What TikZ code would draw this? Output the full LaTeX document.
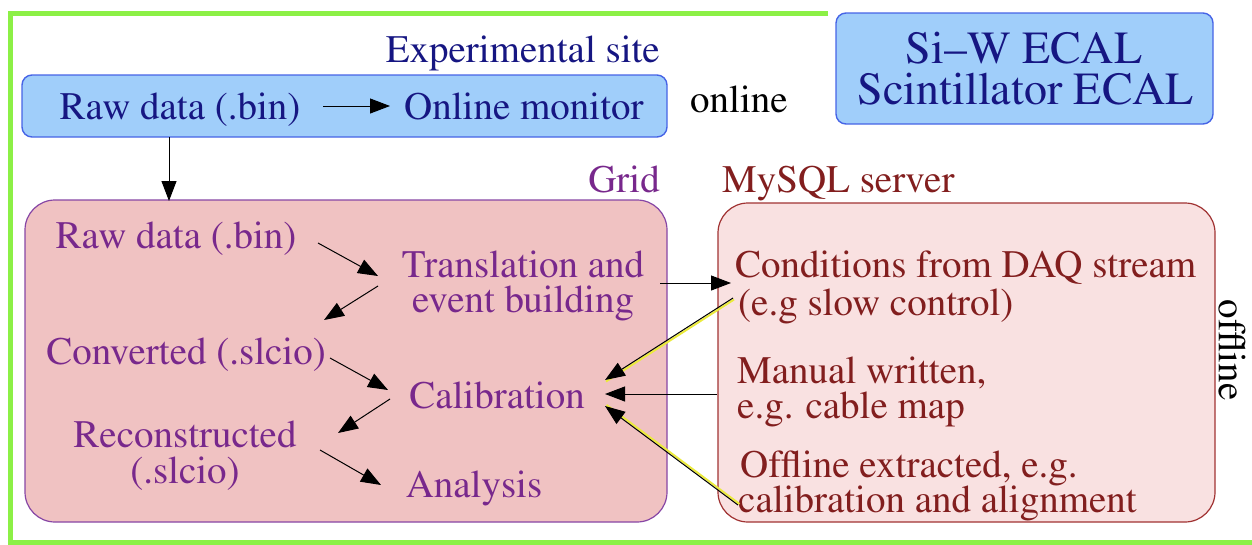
\documentclass[tikz,border=0pt]{standalone}
\usepackage[T1]{fontenc}
\usepackage{graphicx}
\usetikzlibrary{arrows.meta}
\definecolor{navy}{RGB}{22,22,130}
\definecolor{bfill}{RGB}{160,206,250}
\definecolor{bdraw}{RGB}{70,100,230}
\definecolor{gfill}{RGB}{240,194,194}
\definecolor{gdraw}{RGB}{135,70,165}
\definecolor{gtext}{RGB}{120,40,140}
\definecolor{mfill}{RGB}{249,225,225}
\definecolor{mdraw}{RGB}{160,50,50}
\definecolor{mtext}{RGB}{130,30,30}
\definecolor{framegreen}{RGB}{140,240,70}
\definecolor{shine}{RGB}{235,235,60}
\begin{document}
\begin{tikzpicture}[x=1pt,y=-1pt,
  txt/.style={inner sep=0pt, font=\fontfamily{ptm}\fontsize{39}{35}\selectfont},
  big/.style={inner sep=0pt, font=\fontfamily{ptm}\fontsize{46}{46}\selectfont},
  arr/.style={-{Triangle[length=20pt,width=15pt]}, line width=1pt},
  bluebox/.style={draw=bdraw, fill=bfill, line width=1.4pt, rounded corners=10pt, inner sep=0pt},
  gridbox/.style={draw=gdraw, fill=gfill, line width=1.2pt, rounded corners=30pt, inner sep=0pt},
  sqlbox/.style={draw=mdraw, fill=mfill, line width=1.2pt, rounded corners=30pt, inner sep=0pt}]
\useasboundingbox (0,0) rectangle (1252,544);
% green frame
\draw[framegreen, line width=5pt] (828,13) -- (10.5,13) -- (10.5,542) -- (1252,542);
% boxes
\node[bluebox, minimum width=645, minimum height=62] (site) at (344.5,106) {};
\node[bluebox, minimum width=377, minimum height=111] (ecal) at (1024.5,68.5) {};
\node[gridbox, minimum width=642, minimum height=322] (grid) at (346,361) {};
\node[sqlbox, minimum width=497, minimum height=319] (sql) at (966.5,362.5) {};
% labels
\node[txt, navy, anchor=base east] (sitelbl) at (660,62) {Experimental site};
\node[txt, anchor=base west] (online) at (690,112) {online};
\node[txt, gtext, anchor=base east] (gridlbl) at (660,192) {Grid};
\node[txt, mtext, anchor=base west] (sqllbl) at (722,192) {MySQL server};
\node[txt, anchor=center] (offline) at (1232,350) {\rotatebox{-90}{offline}};
% ECAL
\node[big, navy, anchor=base] (ecal1) at (1024,63) {Si--W ECAL};
\node[big, navy, anchor=base] (ecal2) at (1026,104) {Scintillator ECAL};
% site
\node[txt, navy, anchor=base] (raw1) at (180,119) {Raw data (.bin)};
\node[txt, navy, anchor=base west] (mon) at (404,119) {Online monitor};
% grid texts
\node[txt, gtext, anchor=base] (raw2) at (176,248) {Raw data (.bin)};
\node[txt, gtext, anchor=base] (tr1) at (523,277) {Translation and};
\node[txt, gtext, anchor=base] (tr2) at (523,312) {event building};
\node[txt, gtext, anchor=base] (conv) at (186,364) {Converted (.slcio)};
\node[txt, gtext, anchor=base] (cal) at (497,408) {Calibration};
\node[txt, gtext, anchor=base] (rec1) at (185,447) {Reconstructed};
\node[txt, gtext, anchor=base] (rec2) at (185,483) {(.slcio)};
\node[txt, gtext, anchor=base] (ana) at (474,497) {Analysis};
% sql texts
\node[txt, mtext, anchor=base west] (cond1) at (735,277) {Conditions from DAQ stream};
\node[txt, mtext, anchor=base west] (cond2) at (738,315) {(e.g slow control)};
\node[txt, mtext, anchor=base west] (man1) at (737,383) {Manual written,};
\node[txt, mtext, anchor=base west] (man2) at (737,418) {e.g. cable map};
\node[txt, mtext, anchor=base west] (off1) at (740,477) {Offline extracted, e.g.};
\node[txt, mtext, anchor=base west] (off2) at (738,512) {calibration and alignment};
% arrow end points
\coordinate (a1s) at (323,106); \coordinate (a1e) at (390,106);
\coordinate (vs) at (169,137); \coordinate (ve) at (169,201);
\coordinate (b1s) at (318,243); \coordinate (b1e) at (378,276);
\coordinate (b2s) at (378,286); \coordinate (b2e) at (324,320);
\coordinate (b3s) at (330,358); \coordinate (b3e) at (388,390);
\coordinate (b4s) at (390,399); \coordinate (b4e) at (338,433);
\coordinate (b5s) at (320,450); \coordinate (b5e) at (381,485);
\coordinate (c1s) at (660,283); \coordinate (c1e) at (731,283);
\coordinate (c2s) at (733,298); \coordinate (c2e) at (605,380);
\coordinate (c3s) at (717,394); \coordinate (c3e) at (605,394);
\coordinate (c4s) at (738,505); \coordinate (c4e) at (605,406);
% arrows
\draw[arr] (a1s) -- (a1e);
\draw[arr] (vs) -- (ve);
\draw[arr] (b1s) -- (b1e);
\draw[arr] (b2s) -- (b2e);
\draw[arr] (b3s) -- (b3e);
\draw[arr] (b4s) -- (b4e);
\draw[arr] (b5s) -- (b5e);
\draw[arr] (c1s) -- (c1e);
\draw[shine, line width=2pt] ([shift={(1,1.5)}]c2s) -- ([shift={(1,1.5)}]c2e);
\draw[shine, line width=2pt] ([shift={(1.5,-1)}]c4s) -- ([shift={(1.5,-1)}]c4e);
\draw[arr] (c2s) -- (c2e);
\draw[arr] (c3s) -- (c3e);
\draw[arr] (c4s) -- (c4e);
\end{tikzpicture}
\end{document}
